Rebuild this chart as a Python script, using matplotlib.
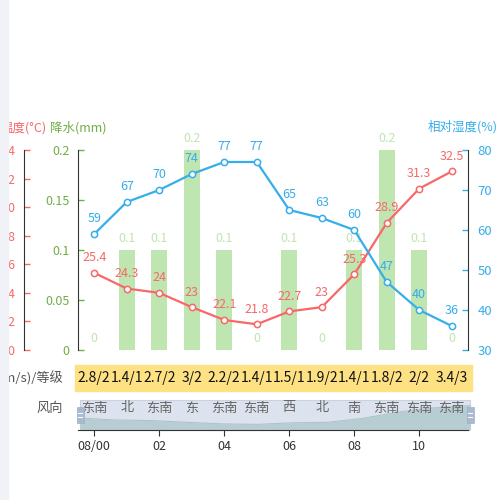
import matplotlib.pyplot as plt
from matplotlib.patches import Rectangle
from matplotlib.transforms import Bbox, TransformedBbox

plt.rcParams['font.family'] = ['Noto Sans CJK SC', 'DejaVu Sans']

# data
hours = ["08/00", "01", "02", "03", "04", "05", "06", "07", "08", "09", "10", "11"]
precip = [0, 0.1, 0.1, 0.2, 0.1, 0, 0.1, 0, 0.1, 0.2, 0.1, 0]
temp = [25.4, 24.3, 24, 23, 22.1, 21.8, 22.7, 23, 25.3, 28.9, 31.3, 32.5]
humidity = [59, 67, 70, 74, 77, 77, 65, 63, 60, 47, 40, 36]
wind_speed = ["2.8/2", "1.4/1", "2.7/2", "3/2", "2.2/2", "1.4/1",
              "1.5/1", "1.9/2", "1.4/1", "1.8/2", "2/2", "3.4/3"]
wind_dir = ["东南", "北", "东南", "东", "东南", "东南", "西", "北", "南", "东南", "东南", "东南"]

red = '#f76868'
blue = '#36aeea'
green = '#6fae45'
bar_green = '#bfe5b1'
W = 500.0

fig = plt.figure(figsize=(5, 5), dpi=100)
x = list(range(len(hours)))

# main grid: x 78..468 px, y 150..350 px
ax = fig.add_axes([78 / W, 150 / W, 390 / W, 200 / W])
ax.set_xlim(-0.5, len(hours) - 0.5)
ax.bar(x, precip, width=0.5, color=bar_green, zorder=1)
ax.set_ylim(0, 0.2)
ax.set_yticks([0, 0.05, 0.1, 0.15, 0.2])
ax.set_yticklabels(["0", "0.05", "0.1", "0.15", "0.2"])
ax.tick_params(axis='y', direction='in', length=4, width=1, colors=green, labelsize=9, pad=6)
for s in ['top', 'right', 'bottom']:
    ax.spines[s].set_visible(False)
ax.spines['left'].set_color('#333')
ax.set_xticks([])
for i, v in enumerate(precip):
    ax.annotate(f"{v:g}", (i, v), xytext=(0, 8.6), textcoords='offset points',
                ha='center', va='center', color=bar_green, fontsize=9)

# temperature axis moved to the left
ax_t = ax.twinx()
ax_t.spines['left'].set_position(('axes', (24 - 78) / 390))
ax_t.yaxis.set_ticks_position('left')
ax_t.yaxis.set_label_position('left')
for s in ['top', 'right', 'bottom']:
    ax_t.spines[s].set_visible(False)
ax_t.spines['left'].set_visible(True)
ax_t.spines['left'].set_color('#333')
ax_t.set_ylim(20, 34)
ax_t.set_yticks(range(20, 35, 2))
ax_t.tick_params(axis='y', direction='in', length=4, width=1, colors=red, labelsize=9, pad=6)
ax_t.plot(x, temp, color=red, lw=1.6, marker='o', ms=4.5, mfc='white', mew=1.1, zorder=3)
for i, v in enumerate(temp):
    ax_t.annotate(f"{v:g}", (i, v), xytext=(0, 10.8), textcoords='offset points',
                  ha='center', va='center', color=red, fontsize=9)

# humidity axis on the right
ax_h = ax.twinx()
for s in ['top', 'left', 'bottom']:
    ax_h.spines[s].set_visible(False)
ax_h.spines['right'].set_color('#333')
ax_h.set_ylim(30, 80)
ax_h.set_yticks(range(30, 81, 10))
ax_h.tick_params(axis='y', direction='in', length=4, width=1, colors=blue, labelsize=9.5, pad=7)
ax_h.plot(x, humidity, color=blue, lw=1.6, marker='o', ms=4.5, mfc='white', mew=1.1, zorder=3)
for i, v in enumerate(humidity):
    ax_h.annotate(f"{v:g}", (i, v), xytext=(0, 10.8), textcoords='offset points',
                  ha='center', va='center', color=blue, fontsize=9)

# axis titles
fig.text(24 / W, 1 - 128 / W, "温度(°C)", ha='center', va='center', color=red, fontsize=9)
fig.text(78 / W, 1 - 128 / W, "降水(mm)", ha='center', va='center', color=green, fontsize=9)
fig.text(498 / W, 1 - 127 / W, "相对湿度(%)", ha='right', va='center', color=blue, fontsize=9)

# bottom block: wind table, slider and x axis (y in pixel units)
bx = fig.add_axes([78 / W, 70 / W, 390 / W, 64 / W])
bx.set_xlim(-0.5, len(hours) - 0.5)
bx.set_ylim(430, 366)
bx.patch.set_alpha(0)
for s in ['top', 'right', 'left']:
    bx.spines[s].set_visible(False)
bx.spines['bottom'].set_color('#333')
bx.set_yticks([])
bx.set_xticks(x[::2])
bx.set_xticklabels(hours[::2])
bx.tick_params(axis='x', direction='out', length=4, colors='#333', labelsize=9, pad=3)

def px2x(px):
    return (px - 78) / 32.5 - 0.5

bx.add_patch(Rectangle((px2x(75), 365), (472 - 75) / 32.5, 26, color='#fde183',
                       clip_on=False, zorder=1))
for i, t in enumerate(wind_speed):
    txt = bx.text(i, 378, t, ha='center', va='center', fontsize=10, color='#111', zorder=2)
    txt.set_clip_box(TransformedBbox(Bbox([[i - 0.5, 366], [i + 0.52, 391]]), bx.transData))
    txt.set_clip_on(True)

# slider with data shadow
sx0, sx1 = px2x(80), px2x(470)
bx.add_patch(Rectangle((sx0, 400), sx1 - sx0, 30, facecolor='#dce3ee', edgecolor='#c9d2de',
                       lw=0.8, clip_on=False, zorder=1))
lo, hi = min(temp), max(temp)
pad = (hi - lo) * 0.3
lo, hi = lo - pad, hi + pad
shx = [sx0 + i * (sx1 - sx0) / (len(temp) - 1) for i in range(len(temp))]
shy = [430 - (v - lo) / (hi - lo) * 30 for v in temp]
bx.fill_between(shx, shy, 430, color='#b7cdd2', lw=0, clip_on=False, zorder=1.5)
bx.plot(shx, shy, color='#adc4ca', lw=0.8, clip_on=False, zorder=1.6)
for hx in [sx0, sx1]:
    bx.add_patch(Rectangle((hx - 3.5 / 32.5, 407), 7 / 32.5, 16, facecolor='#a9b9cf',
                           edgecolor='#9fb0c8', lw=0.5, clip_on=False, zorder=3))
    for yy in [413, 417]:
        bx.plot([hx - 2 / 32.5, hx + 2 / 32.5], [yy, yy], color='white', lw=0.8,
                clip_on=False, zorder=4)
for i, d in enumerate(wind_dir):
    bx.text(i, 408, d, ha='center', va='center', fontsize=9.5, color='#666', zorder=2.5)

fig.text(63 / W, 1 - 378 / W, "风速(m/s)/等级", ha='right', va='center', color='#555', fontsize=9.5)
fig.text(63 / W, 1 - 408 / W, "风向", ha='right', va='center', color='#555', fontsize=9.5)

# page background strip on the left
fig.add_artist(Rectangle((0, 0), 8 / W, 1, transform=fig.transFigure, color='#f1f2f7', zorder=10))

fig.savefig("out.png", dpi=100)
